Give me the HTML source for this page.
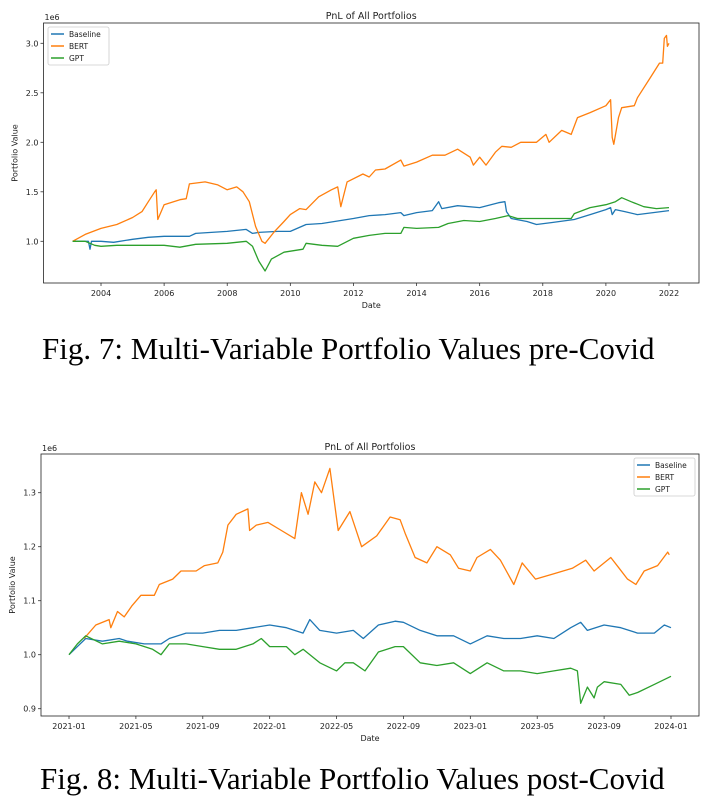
<!DOCTYPE html>
<html><head><meta charset="utf-8">
<style>
body{margin:0;background:#fff;width:708px;height:807px;overflow:hidden;position:relative}
svg{position:absolute;left:0;top:0}
.cap{position:absolute;font-family:"Liberation Serif",serif;font-size:31px;line-height:36px;color:#000;white-space:nowrap}
</style></head>
<body>
<svg id="chart" width="708" height="807"></svg>
<div class="cap" style="left:42px;top:331px">Fig. 7: Multi-Variable Portfolio Values pre-Covid</div>
<div class="cap" style="left:40px;top:761px">Fig. 8: Multi-Variable Portfolio Values post-Covid</div>
<script>
// ---- Chart 1 data (decimal year, value in 1e6)
const c1BaseX=[2003.1,2003.6,2003.65,2003.7,2004,2004.4,2005,2005.5,2006,2006.8,2007,2008,2008.6,2008.8,2009,2009.6,2010,2010.5,2011,2012,2012.5,2013,2013.5,2013.6,2014,2014.5,2014.7,2014.8,2015.3,2016,2016.6,2016.8,2016.85,2017,2017.5,2017.8,2018.3,2019,2019.5,2020,2020.15,2020.2,2020.3,2020.6,2021,2021.5,2022];
const c1BaseY=[1.0,1.0,0.92,1.0,1.0,0.99,1.02,1.04,1.05,1.05,1.08,1.10,1.12,1.08,1.09,1.10,1.10,1.17,1.18,1.23,1.26,1.27,1.29,1.26,1.29,1.31,1.40,1.33,1.36,1.34,1.39,1.40,1.30,1.23,1.20,1.17,1.19,1.22,1.27,1.32,1.34,1.27,1.32,1.30,1.27,1.29,1.31];
const c1BertX=[2003.1,2003.5,2004,2004.5,2005,2005.3,2005.5,2005.7,2005.75,2005.8,2006,2006.5,2006.7,2006.8,2007.3,2007.7,2008,2008.3,2008.5,2008.7,2008.9,2009.1,2009.2,2009.5,2009.8,2010,2010.3,2010.5,2010.9,2011.3,2011.5,2011.6,2011.8,2012.3,2012.5,2012.7,2013,2013.5,2013.6,2014,2014.5,2014.9,2015.3,2015.7,2015.8,2016,2016.2,2016.5,2016.7,2017,2017.3,2017.8,2018.1,2018.2,2018.6,2018.9,2019.1,2019.5,2020,2020.15,2020.2,2020.25,2020.4,2020.5,2020.9,2021,2021.4,2021.7,2021.8,2021.85,2021.92,2021.95,2022.0];
const c1BertY=[1.0,1.07,1.13,1.17,1.24,1.30,1.40,1.50,1.52,1.22,1.37,1.42,1.43,1.58,1.60,1.57,1.52,1.55,1.50,1.40,1.15,1.0,0.98,1.10,1.20,1.27,1.33,1.32,1.45,1.52,1.55,1.35,1.60,1.68,1.65,1.72,1.73,1.82,1.76,1.80,1.87,1.87,1.93,1.85,1.77,1.85,1.77,1.90,1.96,1.95,2.0,2.0,2.08,2.0,2.12,2.08,2.25,2.30,2.37,2.43,2.05,1.98,2.25,2.35,2.37,2.45,2.65,2.80,2.80,3.05,3.08,2.97,3.0];
const c1GptX=[2003.1,2003.5,2003.8,2004,2004.5,2005,2006,2006.5,2007,2008,2008.6,2008.8,2009,2009.2,2009.4,2009.8,2010.4,2010.5,2011,2011.5,2012,2012.5,2013,2013.5,2013.6,2014,2014.7,2015,2015.5,2016,2016.5,2016.9,2017.2,2018,2018.9,2019,2019.5,2020,2020.3,2020.5,2020.8,2021.2,2021.6,2022];
const c1GptY=[1.0,1.0,0.96,0.95,0.96,0.96,0.96,0.94,0.97,0.98,1.0,0.95,0.80,0.70,0.82,0.89,0.92,0.98,0.96,0.95,1.03,1.06,1.08,1.08,1.14,1.13,1.14,1.18,1.21,1.20,1.23,1.26,1.23,1.23,1.23,1.28,1.34,1.37,1.40,1.44,1.40,1.35,1.33,1.34];
const c1XTicks=[2004,2006,2008,2010,2012,2014,2016,2018,2020,2022];
const c1YTicks=[1.0,1.5,2.0,2.5,3.0];
// ---- Chart 2 data (months since 2021-01, value in 1e6)
const c2BaseX=[0,1,2,3,3.5,4.5,5.5,6,7,8,9,10,11,12,13,14,14.4,15,16,17,17.6,18.5,19.5,20,21,22,23,24,25,26,27,28,29,30,30.6,31,32,33,34,35,35.6,36];
const c2BaseY=[1.0,1.03,1.025,1.03,1.025,1.02,1.02,1.03,1.04,1.04,1.045,1.045,1.05,1.055,1.05,1.04,1.065,1.045,1.04,1.045,1.03,1.055,1.062,1.06,1.045,1.035,1.035,1.02,1.035,1.03,1.03,1.035,1.03,1.05,1.06,1.045,1.055,1.05,1.04,1.04,1.055,1.05];
const c2BertX=[0.9,1.6,2.4,2.5,2.9,3.3,3.75,4.3,5.1,5.4,6.2,6.7,7.6,8.1,8.9,9.2,9.5,10,10.7,10.8,11.2,11.9,12.7,13.5,13.9,14.3,14.7,15.1,15.6,16.1,16.8,17.5,18.4,19.2,19.8,20.1,20.7,21.4,22,22.8,23.3,24,24.4,25.2,25.8,26.6,27.1,27.9,29,30.1,30.9,31.4,32.4,32.9,33.4,33.9,34.4,35.2,35.8,35.9];
const c2BertY=[1.03,1.055,1.065,1.05,1.08,1.07,1.09,1.11,1.11,1.13,1.14,1.155,1.155,1.165,1.17,1.19,1.24,1.26,1.27,1.23,1.24,1.245,1.23,1.215,1.30,1.26,1.32,1.30,1.345,1.23,1.265,1.20,1.22,1.255,1.25,1.225,1.18,1.17,1.20,1.185,1.16,1.155,1.18,1.195,1.175,1.13,1.17,1.14,1.15,1.16,1.175,1.155,1.18,1.16,1.14,1.13,1.155,1.165,1.19,1.185];
const c2GptX=[0,0.5,1,2,3,4,5,5.5,6,7,8,9,10,11,11.5,12,13,13.5,14,15,16,16.5,17,17.7,18.5,19.5,20,21,22,23,24,25,26,27,28,29,30,30.4,30.6,31,31.4,31.6,32,33,33.5,34,35,36];
const c2GptY=[1.0,1.02,1.035,1.02,1.025,1.02,1.01,1.0,1.02,1.02,1.015,1.01,1.01,1.02,1.03,1.015,1.015,1.0,1.01,0.985,0.97,0.985,0.985,0.97,1.005,1.015,1.015,0.985,0.98,0.985,0.965,0.985,0.97,0.97,0.965,0.97,0.975,0.97,0.91,0.94,0.92,0.94,0.95,0.945,0.925,0.93,0.945,0.96];
const c2XTicks=[0,4,8,12,16,20,24,28,32,36];
const c2XLabels=["2021-01","2021-05","2021-09","2022-01","2022-05","2022-09","2023-01","2023-05","2023-09","2024-01"];
const c2YTicks=[0.9,1.0,1.1,1.2,1.3];

const NS="http://www.w3.org/2000/svg";
const svg=document.getElementById('chart');
function mk(tag,attrs,parent){const e=document.createElementNS(NS,tag);for(const k in attrs)e.setAttribute(k,attrs[k]);(parent||svg).appendChild(e);return e;}
const FONT='"DejaVu Sans","Liberation Sans",sans-serif';
function txt(x,y,s,size,anchor,parent,rot){const t=mk('text',{x:x,y:y,'font-size':size,'font-family':FONT,'text-anchor':anchor||'middle',fill:'#222'},parent);if(rot)t.setAttribute('transform','rotate(-90 '+x+' '+y+')');t.textContent=s;return t;}

function drawChart(cfg){
  const g=mk('g',{});
  
  
  const sx=v=>cfg.L+(v-cfg.x0)/(cfg.x1-cfg.x0)*(cfg.R-cfg.L);
  const sy=v=>cfg.yp0+(v-cfg.y0)/(cfg.y1-cfg.y0)*(cfg.yp1-cfg.yp0);
  const t=txt((cfg.L+cfg.R)/2,cfg.T-4,'PnL of All Portfolios',9.5,'middle',g);
  
  
  const e=txt(cfg.L+1,cfg.T-3,'1e6',8,'start',g);
  
  
  cfg.xt.forEach((v,i)=>{const x=sx(v);mk('line',{x1:x,x2:x,y1:cfg.B,y2:cfg.B+3,stroke:'#333','stroke-width':0.8},g);
    const l=txt(x,cfg.B+13,cfg.xl[i],8,'middle',g);
    
    });
  cfg.yt.forEach(v=>{const y=sy(v);mk('line',{x1:cfg.L-3,x2:cfg.L,y1:y,y2:y,stroke:'#333','stroke-width':0.8},g);
    const l=txt(cfg.L-5,y+3,v.toFixed(1),8,'end',g);
    
    });
  const xa=txt((cfg.L+cfg.R)/2,cfg.B+25,'Date',8,'middle',g);
  
  
  const ya=txt(cfg.L-26,(cfg.T+cfg.B)/2,'Portfolio Value',8,'middle',g,true);
  
  
  const series=[['baseline',cfg.bx,cfg.by,'#1f77b4'],['bert',cfg.ex,cfg.ey,'#ff7f0e'],['gpt',cfg.gx,cfg.gy,'#2ca02c']];
  series.forEach(s=>{const p=mk('polyline',{points:s[1].map((v,i)=>sx(v).toFixed(1)+','+sy(s[2][i]).toFixed(1)).join(' '),fill:'none',stroke:s[3],'stroke-width':1.3,'stroke-linejoin':'round'},g);
    
    });
  mk('rect',{x:cfg.L,y:cfg.T,width:cfg.R-cfg.L,height:cfg.B-cfg.T,fill:'none',stroke:'#222','stroke-width':0.8},g);
  const lg=mk('g',{},g);
  
  
  mk('rect',{x:cfg.lx,y:cfg.ly,width:61,height:38,fill:'#fff',stroke:'#ccc','stroke-width':0.8,rx:2},lg);
  [['Baseline','#1f77b4'],['BERT','#ff7f0e'],['GPT','#2ca02c']].forEach((s,i)=>{const y=cfg.ly+7+i*12;
    mk('line',{x1:cfg.lx+3,x2:cfg.lx+16,y1:y,y2:y,stroke:s[1],'stroke-width':1.5},lg);
    const l=txt(cfg.lx+21,y+3,s[0],7.5,'start',lg);
    
    });
}
drawChart({name:'chart-pre-covid',L:43.5,R:699,T:23,B:283,x0:2004-(101-43.5)/31.55,x1:2022+(699-669)/31.55,
  y0:1.0,y1:3.0,yp0:241.3,yp1:43.3,
  xt:c1XTicks,xl:c1XTicks.map(String),yt:c1YTicks,
  bx:c1BaseX,by:c1BaseY,ex:c1BertX,ey:c1BertY,gx:c1GptX,gy:c1GptY,lx:48,ly:27});
drawChart({name:'chart-post-covid',L:41,R:699,T:454,B:716,x0:0-(69-41)/16.72,x1:36+(699-671)/16.72,
  y0:0.9,y1:1.3,yp0:708.7,yp1:492.7,
  xt:c2XTicks,xl:c2XLabels,yt:c2YTicks,
  bx:c2BaseX,by:c2BaseY,ex:c2BertX,ey:c2BertY,gx:c2GptX,gy:c2GptY,lx:634,ly:458});
</script>
</body></html>
